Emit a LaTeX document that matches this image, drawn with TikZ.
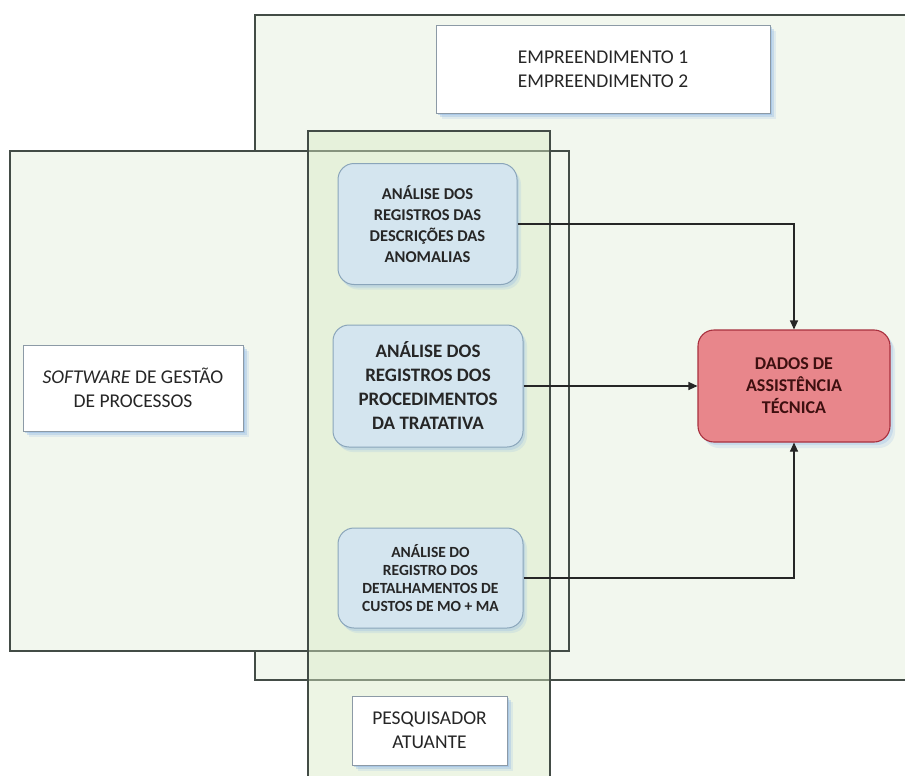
\documentclass[tikz,border=0pt]{standalone}
\usepackage{fontspec}
\setmainfont{Carlito}
\usetikzlibrary{arrows.meta,shadows}

\definecolor{framegray}{HTML}{434C46}
\definecolor{areafill}{HTML}{F2F7EE}
\definecolor{columnfill}{HTML}{D9EAC4}
\definecolor{boxgray}{HTML}{8C9AA6}
\definecolor{shadowblue}{HTML}{94BAE6}
\definecolor{stepfill}{HTML}{D4E5EF}
\definecolor{stepborder}{HTML}{8AA5BA}
\definecolor{steptext}{HTML}{262626}
\definecolor{resultfill}{HTML}{E8868B}
\definecolor{resultborder}{HTML}{A8303E}
\definecolor{resulttext}{HTML}{3E1010}

\tikzset{
  frame/.style={draw=framegray, line width=1.3pt},
  softshadow/.style={
    general shadow={shadow xshift=6pt, shadow yshift=-6pt, fill=shadowblue, opacity=0.2},
    general shadow={shadow xshift=4pt, shadow yshift=-4pt, fill=shadowblue, opacity=0.35},
    general shadow={shadow xshift=2pt, shadow yshift=-2pt, fill=shadowblue, opacity=0.5}},
  whitebox/.style={draw=boxgray, line width=0.8pt, fill=white, align=center,
    inner sep=0pt, text=black!85, font=\fontsize{19.5}{24}\selectfont, softshadow},
  stepbox/.style={draw=stepborder, line width=1pt, fill=stepfill,
    rounded corners=16pt, align=center, inner sep=0pt, text=steptext,
    general shadow={shadow xshift=4pt, shadow yshift=-5pt, fill=shadowblue, opacity=0.2},
    general shadow={shadow xshift=2pt, shadow yshift=-3pt, fill=shadowblue, opacity=0.3}},
  resultbox/.style={draw=resultborder, line width=1.1pt, fill=resultfill,
    rounded corners=16pt, align=center, inner sep=0pt, text=resulttext,
    font=\bfseries\fontsize{18}{22}\selectfont,
    general shadow={shadow xshift=5pt, shadow yshift=-6pt, fill=shadowblue, opacity=0.2},
    general shadow={shadow xshift=3pt, shadow yshift=-3pt, fill=shadowblue, opacity=0.3}},
  link/.style={draw=black!85, line width=1.1pt, -{Triangle[length=9pt,width=8pt]}}
}

\begin{document}
\begin{tikzpicture}[x=1pt,y=-1pt]
  \useasboundingbox (0,0) rectangle (905,776);
  \clip (0,0) rectangle (905,776);
  \fill[white] (0,0) rectangle (905,776);

  % enterprise area and process software area
  \path[frame, fill=areafill] (255,15) rectangle (920,680);
  \path[frame, fill=areafill] (10,151) rectangle (569,651);
  % researcher column, translucent over both areas
  \fill[columnfill, fill opacity=0.45] (308,131) rectangle (550,790);
  \draw[framegray, line width=1.1pt] (308,790) -- (308,131) -- (550,131) -- (550,790);

  % labels of the areas
  \node[whitebox, minimum width=334pt, minimum height=88pt] (emp) at (603,69)
    {EMPREENDIMENTO 1\\EMPREENDIMENTO 2};
  \node[whitebox, minimum width=220pt, minimum height=86pt] (soft) at (133,388)
    {\textit{SOFTWARE} DE GESTÃO\\DE PROCESSOS};
  \node[whitebox, minimum width=155pt, minimum height=69pt] (pesq) at (429.5,730.5)
    {PESQUISADOR\\ATUANTE};

  % analysis steps
  \node[stepbox, minimum width=179pt, minimum height=121pt,
        font=\bfseries\fontsize{16.5}{21}\selectfont] (s1) at (427.5,224)
    {ANÁLISE DOS\\REGISTROS DAS\\DESCRIÇÕES DAS\\ANOMALIAS};
  \node[stepbox, minimum width=190pt, minimum height=122pt,
        font=\bfseries\fontsize{19}{24}\selectfont] (s2) at (428,386)
    {ANÁLISE DOS\\REGISTROS DOS\\PROCEDIMENTOS\\DA TRATATIVA};
  \node[stepbox, minimum width=185pt, minimum height=100pt,
        font=\bfseries\fontsize{15.5}{18}\selectfont] (s3) at (430.5,578)
    {ANÁLISE DO\\REGISTRO DOS\\DETALHAMENTOS DE\\CUSTOS DE MO + MA};

  % result
  \node[resultbox, minimum width=192pt, minimum height=112pt] (res) at (794,386)
    {DADOS DE\\ASSISTÊNCIA\\TÉCNICA};

  % connectors
  \draw[link] (s1.east) -| (res.north);
  \draw[link] (s2.east) -- (res.west);
  \draw[link] (s3.east) -| (res.south);
\end{tikzpicture}
\end{document}
